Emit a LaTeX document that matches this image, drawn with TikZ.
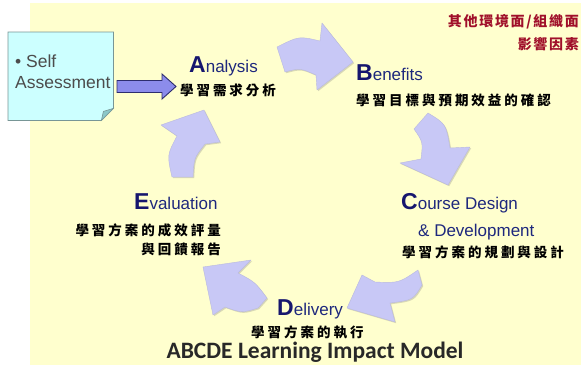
\documentclass[tikz,border=0pt]{standalone}
\usepackage{fontspec}
\setmainfont{Liberation Sans}
\newfontfamily\zhfont[LetterSpace=22]{Noto Sans CJK TC}
\newfontfamily\titlefont{Carlito}
\usepackage{xcolor}
\usetikzlibrary{calc, shadows}

\definecolor{bgyellow}{RGB}{255,255,206}
\definecolor{notecyan}{RGB}{204,255,255}
\definecolor{notefold}{RGB}{140,200,200}
\definecolor{noteline}{RGB}{120,150,150}
\definecolor{lavender}{RGB}{200,200,246}
\definecolor{feedblue}{RGB}{140,140,235}
\definecolor{feedline}{RGB}{45,45,110}
\definecolor{capblue}{RGB}{22,22,110}
\definecolor{wordblue}{RGB}{30,40,125}
\definecolor{factorred}{RGB}{160,16,42}
\definecolor{titlegray}{RGB}{40,40,40}

\newcommand\Ini[1]{{\fontsize{23}{23}\selectfont\bfseries\color{capblue}#1}}

\begin{document}
\begin{tikzpicture}[x=1pt, y=-1pt,
	cyclearrow/.style={fill=lavender, draw=lavender!80!gray, line join=round,
		drop shadow={shadow xshift=1.2pt, shadow yshift=-1.2pt, fill=gray, opacity=0.3}},
	feedarrow/.style={fill=feedblue, draw=feedline, line width=0.9pt, line join=miter},
	enword/.style={anchor=base west, inner sep=0pt, text=wordblue, font=\fontsize{17}{17}\selectfont},
	zhword/.style={inner sep=0pt, font=\zhfont\bfseries\fontsize{13.5}{16}\selectfont},
	redword/.style={anchor=east, inner sep=0pt, text=factorred,
		font=\zhfont\addfontfeature{LetterSpace=12}\bfseries\fontsize{14}{16}\selectfont},
	notetext/.style={anchor=base west, inner sep=0pt, text=black!70, font=\fontsize{17.5}{17.5}\selectfont}]

	\useasboundingbox (0,0) rectangle (581,365);
	\fill [bgyellow] (30,3) rectangle (581,365);

	\begin{scope}
		\node [anchor=north west, minimum width=105pt, minimum height=88pt, inner sep=0pt] (note) at (8,32) {};
		\draw [fill=notecyan, draw=noteline, line width=0.8pt]
			(note.north west) -- (note.north east) -- ([yshift=12pt]note.south east)
			-- ([xshift=-12pt]note.south east) -- (note.south west) -- cycle;
		\draw [fill=notefold, draw=noteline, line width=0.6pt]
			([xshift=-12pt]note.south east) -- ([yshift=12pt]note.south east)
			-- ([xshift=-10pt, yshift=9pt]note.south east) -- cycle;
		\node [notetext] (self) at (15,67) {\textbullet\ Self};
		\node [notetext] (assess) at (15,88) {Assessment};
	\end{scope}

	\coordinate (feedtail) at (117,86.5);
	\coordinate (feedtip) at (176,86.5);
	\draw [feedarrow] ($(feedtail)+(0,-6)$) -- ($(feedtip)+(-14,-6)$) -- ($(feedtip)+(-14,-12.5)$)
		-- (feedtip) -- ($(feedtip)+(-14,12.5)$) -- ($(feedtip)+(-14,6)$) -- ($(feedtail)+(0,6)$) -- cycle;

	\begin{scope}
		\draw [cyclearrow] (277,47) .. controls (299,36) .. (320,41) -- (322,23) -- (353,62)
			-- (317,90) -- (316,75) .. controls (300,68) .. (285,72) -- cycle;
		\draw [cyclearrow] (428,113) .. controls (446,124) .. (450,148) -- (470,147) -- (448,185)
			-- (400,163) -- (421,159) .. controls (423,142) .. (414,129) -- cycle;
		\draw [cyclearrow] (418,270) -- (422,285) .. controls (413,300) .. (390,303) -- (395,322)
			-- (347,308) -- (362,275) -- (375,282) .. controls (399,283) .. (418,270) -- cycle;
		\draw [cyclearrow] (267,298) -- (258,308) .. controls (242,313) .. (225,307) -- (213,315)
			-- (203,267) -- (251,260) -- (238,273) .. controls (255,282) .. (267,298) -- cycle;
		\draw [cyclearrow] (172,177) .. controls (167,155) .. (177,136) -- (161,125) -- (204,110)
			-- (220,142) -- (205,144) .. controls (194,158) .. (193,177) -- cycle;
	\end{scope}

	\node [enword] (analysis) at (189,72) {\Ini{A}nalysis};
	\node [zhword] (analysiszh) at (228,90) {學習需求分析};
	\node [enword] (benefits) at (356,80) {\Ini{B}enefits};
	\node [zhword, anchor=west] (benefitszh) at (356,100) {學習目標與預期效益的確認};
	\node [enword] (course) at (401,209) {\Ini{C}ourse Design};
	\node [enword] (coursedev) at (418,236) {\& Development};
	\node [zhword, anchor=west] (coursezh) at (402,252) {學習方案的規劃與設計};
	\node [enword] (evaluation) at (134,209) {\Ini{E}valuation};
	\node [zhword, anchor=east] (evalzh) at (221,230) {學習方案的成效評量};
	\node [zhword, anchor=east] (evalzhb) at (221,249) {與回饋報告};
	\node [enword] (delivery) at (277,315) {\Ini{D}elivery};
	\node [zhword, anchor=west] (deliveryzh) at (251,332) {學習方案的執行};

	\node [redword] (factor) at (579,22) {其他環境面/組織面};
	\node [redword] (factorb) at (579,44) {影響因素};

	\node [anchor=base, inner sep=0pt, text=titlegray, font=\titlefont\bfseries\fontsize{23.5}{24}\selectfont]
		(title) at (315,358.5) {ABCDE Learning Impact Model};
\end{tikzpicture}
\end{document}
